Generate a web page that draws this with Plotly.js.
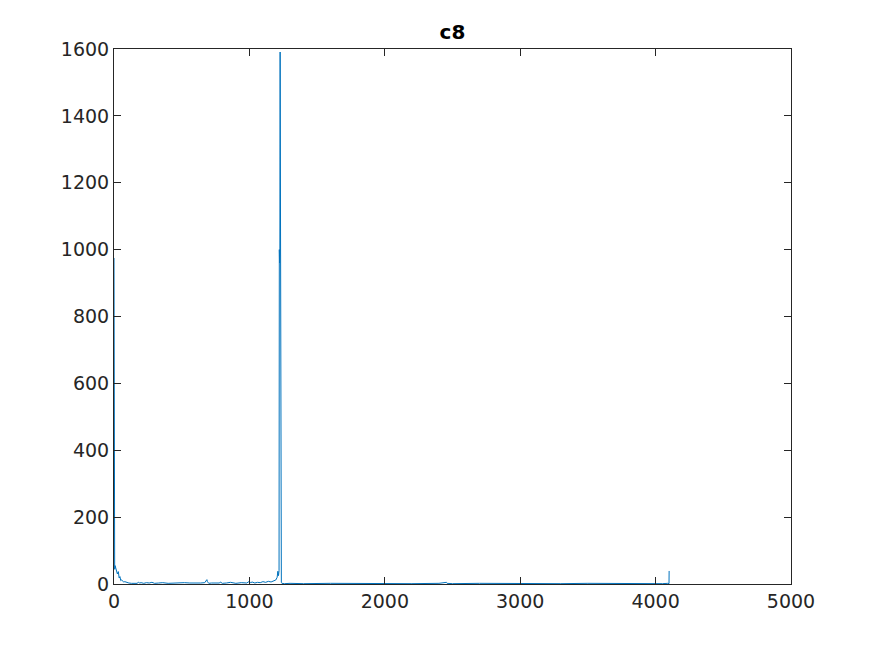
<!DOCTYPE html>
<html>
<head>
<meta charset="utf-8">
<script src="https://cdn.plot.ly/plotly-3.0.1.min.js"></script>
<style>html,body{margin:0;padding:0;background:#fff;}</style>
</head>
<body>
<div id="chart" style="width:875px;height:656px;"></div>
<script>
const chartTitle = "c8";
const xValues = [0,1,3,5,8,12,16,20,25,32,38,44,50,56,64,72,80,94,110,130,150,170,180,190,200,220,240,260,280,300,330,360,400,440,480,520,560,600,640,670,680,686,690,694,700,720,750,780,786,790,800,830,860,900,940,980,990,995,1000,1010,1020,1040,1060,1080,1100,1120,1140,1160,1180,1195,1205,1210,1215,1219,1221,1223,1225,1227,1229,1231,1233,1236,1240,1260,1300,1400,1600,1800,2000,2200,2400,2450,2455,2460,2500,2700,2900,3100,3300,3500,3700,3900,4050,4090,4099,4100];
const yValues = [975,60,52,44,55,48,40,36,30,37,18,22,10,12,8,6,7,4,3,2,3,2,5,3,4,2,4,3,5,2,3,4,2,3,2,4,3,2,3,4,8,13,7,3,2,3,4,3,6,4,2,3,5,2,4,3,6,5,8,4,6,3,5,4,7,5,8,6,9,12,20,38,25,40,1000,960,1002,1591,930,927,20,5,2,1,2,1,2,1,2,1,2,3,5,2,1,2,1,2,1,2,1,2,1,2,1,39];
const yTicks = [0,200,400,600,800,1000,1200,1400,1600];
const xTicks = [0,1000,2000,3000,4000,5000];

const axisColor = '#262626';
const tickFont = {family: 'DejaVu Sans, sans-serif', size: 19, color: axisColor};

Plotly.newPlot('chart', [{
  x: xValues,
  y: yValues,
  type: 'scatter',
  mode: 'lines',
  line: {color: '#0072BD', width: 1},
  hoverinfo: 'skip'
}], {
  width: 875,
  height: 656,
  margin: {l: 114, r: 84, t: 49, b: 72, pad: 0},
  paper_bgcolor: '#ffffff',
  plot_bgcolor: '#ffffff',
  showlegend: false,
  title: {
    text: '<b>' + chartTitle + '</b>',
    font: {family: 'DejaVu Sans, sans-serif', size: 20, color: '#000000'},
    x: 0.5 * (114 + 791) / 875, xanchor: 'center',
    y: 1 - 32 / 656, yanchor: 'middle'
  },
  xaxis: {
    range: [0, 5000],
    tickvals: xTicks,
    ticktext: xTicks.map(String),
    ticks: 'inside', ticklen: 7, tickwidth: 1, tickcolor: axisColor,
    showline: true, linecolor: axisColor, linewidth: 1, mirror: 'ticks',
    showgrid: false, zeroline: false,
    tickfont: tickFont
  },
  yaxis: {
    range: [0, 1600],
    tickvals: yTicks,
    ticktext: yTicks.map(String),
    ticks: 'inside', ticklen: 7, tickwidth: 1, tickcolor: axisColor,
    showline: true, linecolor: axisColor, linewidth: 1, mirror: 'ticks',
    showgrid: false, zeroline: false,
    tickfont: tickFont
  }
}, {staticPlot: true, displayModeBar: false});
</script>
</body>
</html>
